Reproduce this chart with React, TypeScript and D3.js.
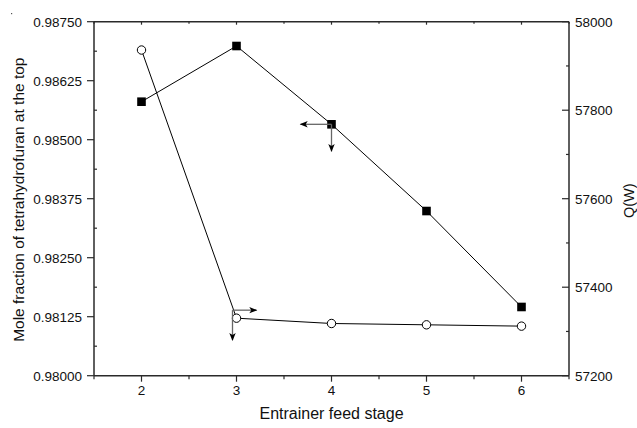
import React from "react";
import * as d3 from "d3";

// Entrainer feed stage on the x axis
const stages = [2, 3, 4, 5, 6];
// Mole fraction of THF at the top (left axis, filled squares)
const moleFraction = [0.985805, 0.986985, 0.985326, 0.983489, 0.981456];
// Reboiler duty Q in W (right axis, open circles)
const duty = [57936, 57330, 57318, 57315, 57312];

const xTicks = [2, 3, 4, 5, 6];
const leftTicks = [0.98, 0.98125, 0.9825, 0.98375, 0.985, 0.98625, 0.9875];
const rightTicks = [57200, 57400, 57600, 57800, 58000];

const W = 637;
const H = 428;
const M = { left: 94, right: 569, top: 21.7, bottom: 375.7 };
const FONT = "'Liberation Sans', Arial, Helvetica, sans-serif";
const AXIS = "#2a2a2a";
const TICK_FS = 13.5;

export default function App() {
  const x = d3.scaleLinear().domain([1.5, 6.5]).range([M.left, M.right]);
  const yL = d3.scaleLinear().domain([0.98, 0.9875]).range([M.bottom, M.top]);
  const yR = d3.scaleLinear().domain([57200, 58000]).range([M.bottom, M.top]);

  const xMinor = d3.range(1.5, 6.51, 0.5).filter((v) => !xTicks.includes(v));
  const leftMinor = leftTicks.slice(0, -1).map((v) => v + 0.000625);
  const rightMinor = rightTicks.slice(0, -1).map((v) => v + 100);

  const sqPts: [number, number][] = stages.map((s, i) => [x(s), yL(moleFraction[i])]);
  const cPts: [number, number][] = stages.map((s, i) => [x(s), yR(duty[i])]);
  const line = d3.line();

  // arrow anchors: square at stage 4 points to the left axis, circle at stage 3 to the right axis
  const sq = sqPts[2];
  const ci: [number, number] = [cPts[1][0] - 4, cPts[1][1] - 8];

  return (
    <svg
      width={W}
      height={H}
      style={{ position: "absolute", left: 0, top: 0, background: "#fff" }}
      fontFamily={FONT}
    >
      <defs>
        <marker id="ah" viewBox="0 0 10 10" refX="9" refY="5" markerWidth="11" markerHeight="8" orient="auto" markerUnits="userSpaceOnUse">
          <path d="M0,1 L10,5 L0,9 L2.5,5 Z" fill="#000" />
        </marker>
      </defs>
      <rect x={11} y={13} width={1.2} height={1.2} fill="#555" />

      {/* frame */}
      <g stroke={AXIS} strokeWidth={1.5} fill="none">
        <line x1={M.left} x2={M.right} y1={M.top} y2={M.top} />
        <line x1={M.left} x2={M.right} y1={M.bottom} y2={M.bottom} />
        <line x1={M.left} x2={M.left} y1={M.top} y2={M.bottom} />
        <line x1={M.right} x2={M.right} y1={M.top} y2={M.bottom} />
      </g>

      {/* x ticks */}
      <g stroke={AXIS} strokeWidth={1.2}>
        {xTicks.map((t) => (
          <line key={"xb" + t} x1={x(t)} x2={x(t)} y1={M.bottom} y2={M.bottom + 6} />
        ))}
        {xMinor.map((t) => (
          <line key={"xm" + t} x1={x(t)} x2={x(t)} y1={M.bottom} y2={M.bottom + 3.5} />
        ))}
        {xTicks.map((t) => (
          <line key={"xt" + t} x1={x(t)} x2={x(t)} y1={M.top} y2={M.top + 3} />
        ))}
        {xMinor.map((t) => (
          <line key={"xtm" + t} x1={x(t)} x2={x(t)} y1={M.top} y2={M.top + 2} />
        ))}
      </g>
      <g fontSize={TICK_FS} fill="#111" textAnchor="middle">
        {xTicks.map((t) => (
          <text key={"xl" + t} x={x(t)} y={M.bottom + 19}>
            {t}
          </text>
        ))}
      </g>

      {/* left axis */}
      <g stroke={AXIS} strokeWidth={1.2}>
        {leftTicks.map((t) => (
          <line key={"lt" + t} x1={M.left - 7} x2={M.left} y1={yL(t)} y2={yL(t)} />
        ))}
        {leftMinor.map((t) => (
          <line key={"lm" + t} x1={M.left} x2={M.left + 3} y1={yL(t)} y2={yL(t)} />
        ))}
      </g>
      <g fontSize={TICK_FS} fill="#111" textAnchor="end">
        {leftTicks.map((t) => (
          <text key={"ll" + t} x={M.left - 12} y={yL(t) + 4.8}>
            {t.toFixed(5)}
          </text>
        ))}
      </g>

      {/* right axis */}
      <g stroke={AXIS} strokeWidth={1.2}>
        {rightTicks.map((t) => (
          <line key={"rt" + t} x1={M.right - 7} x2={M.right} y1={yR(t)} y2={yR(t)} />
        ))}
        {rightMinor.map((t) => (
          <line key={"rm" + t} x1={M.right - 3} x2={M.right} y1={yR(t)} y2={yR(t)} />
        ))}
      </g>
      <g fontSize={TICK_FS} fill="#111" textAnchor="start">
        {rightTicks.map((t) => (
          <text key={"rl" + t} x={M.right + 6} y={yR(t) + 4.8}>
            {t}
          </text>
        ))}
      </g>

      {/* axis titles */}
      <text x={(M.left + M.right) / 2} y={419} fontSize={16} textAnchor="middle" fill="#111">
        Entrainer feed stage
      </text>
      <text
        transform={`translate(24,${(M.top + M.bottom) / 2 + 1}) rotate(-90)`}
        fontSize={15.5}
        textAnchor="middle"
        fill="#111"
      >
        Mole fraction of tetrahydrofuran at the top
      </text>
      <text
        transform={`translate(634,${(M.top + M.bottom) / 2 + 2}) rotate(-90)`}
        fontSize={14.5}
        textAnchor="middle"
        fill="#111"
      >
        Q(W)
      </text>

      {/* series lines */}
      <path d={line(sqPts) || ""} fill="none" stroke="#000" strokeWidth={1} />
      <path d={line(cPts) || ""} fill="none" stroke="#000" strokeWidth={1} />

      {/* markers */}
      {sqPts.map(([px, py], i) => (
        <rect key={"s" + i} x={px - 4.3} y={py - 4.3} width={8.6} height={8.6} fill="#000" />
      ))}
      {cPts.map(([px, py], i) => (
        <circle key={"c" + i} cx={px} cy={py} r={4.2} fill="#fff" stroke="#000" strokeWidth={1} />
      ))}

      {/* axis indicator arrows */}
      <g stroke="#666" strokeWidth={1.3} fill="none">
        <line x1={sq[0]} y1={sq[1]} x2={sq[0] - 31} y2={sq[1]} markerEnd="url(#ah)" />
        <line x1={sq[0]} y1={sq[1]} x2={sq[0]} y2={sq[1] + 27} markerEnd="url(#ah)" />
        <line x1={ci[0]} y1={ci[1]} x2={ci[0] + 24} y2={ci[1]} markerEnd="url(#ah)" />
        <line x1={ci[0]} y1={ci[1]} x2={ci[0]} y2={ci[1] + 30} markerEnd="url(#ah)" />
      </g>
    </svg>
  );
}
